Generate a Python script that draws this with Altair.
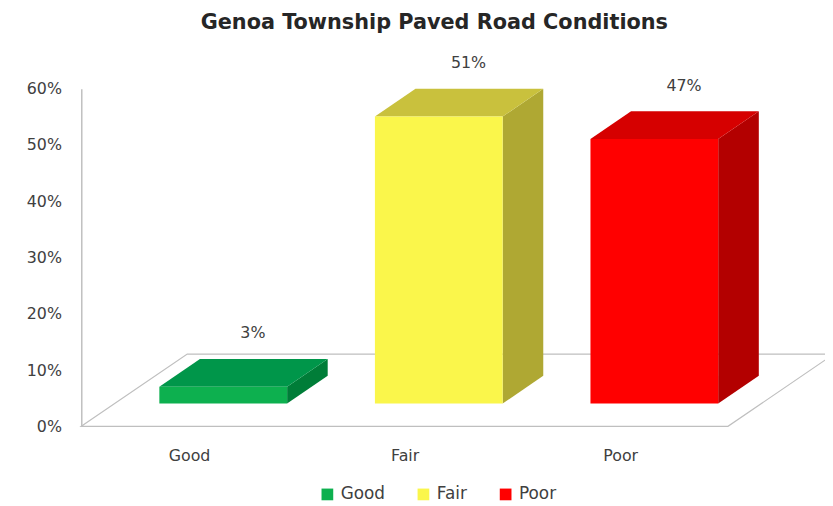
import json
import altair as alt
import pandas as pd

# ---- data ----
categories = ["Good", "Fair", "Poor"]
values = [3, 51, 47]
value_labels = ["3%", "51%", "47%"]
y_ticks = [0, 10, 20, 30, 40, 50, 60]

# ---- styles ----
front_colors = ["#0DB04F", "#FAF64B", "#FF0000"]
top_colors = ["#00964A", "#C9C13D", "#D60000"]
side_colors = ["#007D38", "#AFA833", "#B30000"]
FONT = "DejaVu Sans"
TXT = "#404040"

W, H = 653, 341
XMIN, XMAX = -0.5, 2.5
YMAX = 60
PX = W / (XMAX - XMIN)
PY = H / YMAX


def ux(p):
    return p / PX


def uy(p):
    return p / PY


HALF = ux(64.5)            # half bar width
FX, FY = ux(34.5), uy(23)  # bar front plane offset from floor front
DX, DY = ux(41), uy(28)    # bar depth
FLX, FLY = ux(107), uy(73)  # floor depth

front_rows, top_rows, side_rows, label_rows = [], [], [], []
for i, (c, v, lab) in enumerate(zip(categories, values, value_labels)):
    L = i + FX - HALF
    R = i + FX + HALF
    vt = v + FY
    front_rows.append(dict(cat=c, x=L, x2=R, y=FY, y2=vt))
    for xx, yy, yy2 in [(L, vt, vt), (L + DX, vt + DY, vt), (R, vt + DY, vt), (R + DX, vt + DY, vt + DY)]:
        top_rows.append(dict(cat=c, x=xx, y=yy, y2=yy2, col=top_colors[i]))
    for xx, yy, yy2 in [(R, vt, FY), (R + DX, vt + DY, FY + DY)]:
        side_rows.append(dict(cat=c, x=xx, y=yy, y2=yy2, col=side_colors[i]))
    label_rows.append(dict(cat=c, x=i + FX + ux(30), y=vt + DY, label=lab))

floor_rows = [
    dict(x=XMIN, y=0, y2=0),
    dict(x=XMIN + FLX, y=FLY, y2=0),
    dict(x=XMAX, y=FLY, y2=0),
    dict(x=XMAX + FLX, y=FLY, y2=FLY),
]

xs = alt.Scale(domain=[XMIN, XMAX], nice=False, zero=False)
ys = alt.Scale(domain=[0, YMAX], nice=False, zero=False)

x_axis = alt.Axis(values=[0, 1, 2], labelExpr=json.dumps(categories) + "[datum.value]",
                  title=None, domain=False, ticks=False, grid=False, labelPadding=22,
                  labelFont=FONT, labelFontSize=16, labelColor=TXT)
y_axis = alt.Axis(values=y_ticks, labelExpr="datum.value + '%'", title=None, grid=False,
                  ticks=False, domainColor="#BFBFBF", domainWidth=1.5, labelPadding=20,
                  labelFont=FONT, labelFontSize=16, labelColor=TXT)


def X(f="x"):
    return alt.X(f + ":Q", scale=xs, axis=x_axis)


def Y(f="y"):
    return alt.Y(f + ":Q", scale=ys, axis=y_axis)


floor = alt.Chart(pd.DataFrame(floor_rows)).mark_area(
    fill="white", stroke="#BFBFBF", strokeWidth=1.2
).encode(x=X(), y=Y(), y2="y2:Q")

side = alt.Chart(pd.DataFrame(side_rows)).mark_area(strokeWidth=0).encode(
    x=X(), y=Y(), y2="y2:Q", detail="cat:N", fill=alt.Fill("col:N", scale=None)
)

top = alt.Chart(pd.DataFrame(top_rows)).mark_area(strokeWidth=0).encode(
    x=X(), y=Y(), y2="y2:Q", detail="cat:N", fill=alt.Fill("col:N", scale=None)
)

front = alt.Chart(pd.DataFrame(front_rows)).mark_rect(strokeWidth=0).encode(
    x=X(), x2="x2:Q", y=Y(), y2="y2:Q",
    color=alt.Color("cat:N", scale=alt.Scale(domain=categories, range=front_colors),
                    legend=alt.Legend(title=None, orient="none", legendX=240, legendY=401,
                                      direction="horizontal", symbolType="square",
                                      symbolSize=140, symbolStrokeWidth=0,
                                      labelFont=FONT, labelFontSize=17, labelColor=TXT,
                                      columnPadding=30, labelOffset=5)),
)

labels = alt.Chart(pd.DataFrame(label_rows)).mark_text(
    dy=-26, font=FONT, fontSize=16, color=TXT
).encode(x=X(), y=Y(), text="label:N")

chart = alt.layer(floor, side, top, front, labels).properties(
    width=W, height=H,
    title=alt.TitleParams("Genoa Township Paved Road Conditions", font=FONT, fontSize=21,
                          fontWeight="bold", color="#262626", anchor="middle", dx=30, offset=22),
    autosize=alt.AutoSizeParams(type="none"),
    padding={"left": 74, "top": 79, "right": 98, "bottom": 78},
).configure_view(stroke=None)

chart.save("out.html", embed_options={"renderer": "svg", "actions": False})
